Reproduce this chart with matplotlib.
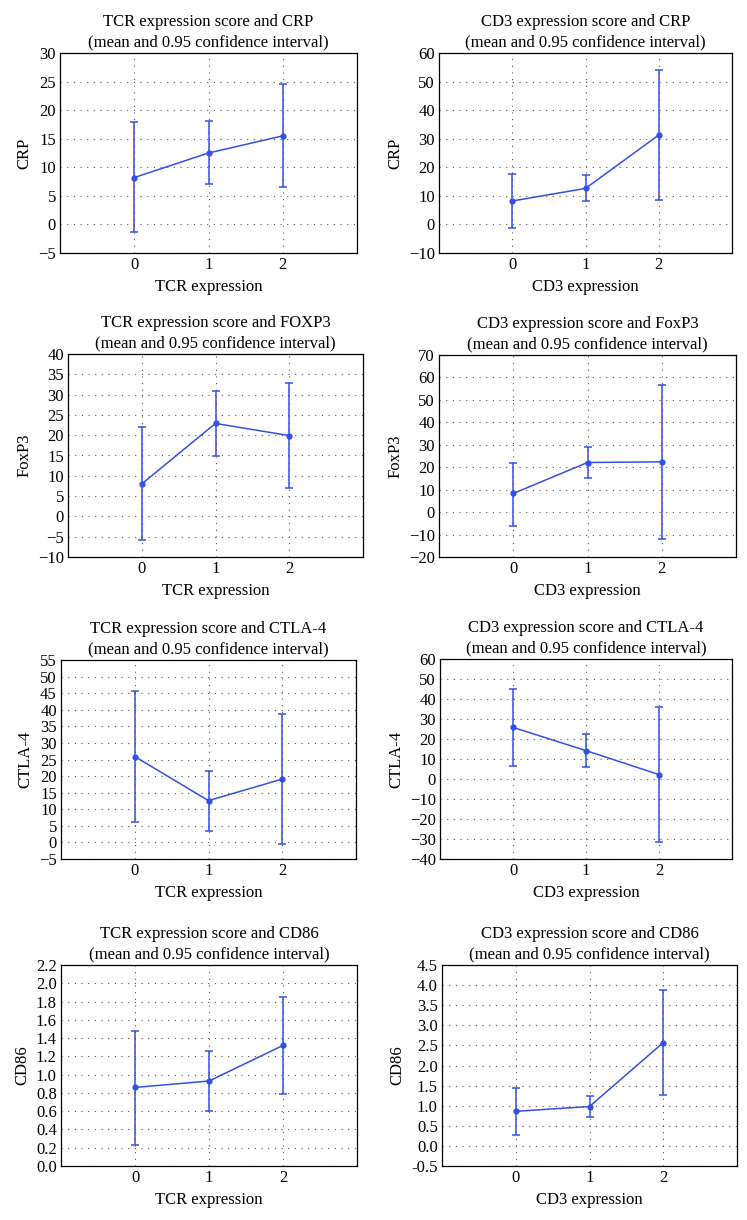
import matplotlib
matplotlib.use("Agg")
import matplotlib.pyplot as plt

plt.rcParams['font.family'] = ['Liberation Serif', 'DejaVu Serif']

x_levels = [0, 1, 2]

# Panel data: means, lower CI, upper CI
tcr_crp_mean = [8.2, 12.5, 15.5]
tcr_crp_low = [-1.4, 7.0, 6.6]
tcr_crp_high = [17.9, 18.1, 24.5]

cd3_crp_mean = [8.2, 12.6, 31.3]
cd3_crp_low = [-1.1, 8.1, 8.6]
cd3_crp_high = [17.5, 17.3, 54.0]

tcr_foxp3_mean = [8.0, 22.9, 19.9]
tcr_foxp3_low = [-5.9, 14.9, 7.0]
tcr_foxp3_high = [22.0, 31.0, 32.8]

cd3_foxp3_mean = [8.3, 22.1, 22.4]
cd3_foxp3_low = [-6.0, 15.0, -12.0]
cd3_foxp3_high = [22.0, 29.1, 56.6]

tcr_ctla4_mean = [25.9, 12.6, 19.1]
tcr_ctla4_low = [6.3, 3.5, -0.5]
tcr_ctla4_high = [45.6, 21.6, 38.7]

cd3_ctla4_mean = [25.8, 14.2, 2.2]
cd3_ctla4_low = [6.3, 5.8, -31.7]
cd3_ctla4_high = [45.2, 22.7, 35.8]

tcr_cd86_mean = [0.86, 0.93, 1.32]
tcr_cd86_low = [0.23, 0.60, 0.79]
tcr_cd86_high = [1.48, 1.26, 1.85]

cd3_cd86_mean = [0.86, 0.98, 2.57]
cd3_cd86_low = [0.28, 0.71, 1.26]
cd3_cd86_high = [1.44, 1.24, 3.87]

titles = [
    "TCR expression score and CRP\n(mean and 0.95 confidence interval)",
    "CD3 expression score and CRP\n(mean and 0.95 confidence interval)",
    "TCR expression score and FOXP3\n(mean and 0.95 confidence interval)",
    "CD3 expression score and FoxP3\n(mean and 0.95 confidence interval)",
    "TCR expression score and CTLA-4\n(mean and 0.95 confidence interval)",
    "CD3 expression score and CTLA-4\n(mean and 0.95 confidence interval)",
    "TCR expression score and CD86\n(mean and 0.95 confidence interval)",
    "CD3 expression score and CD86\n(mean and 0.95 confidence interval)",
]
ylabels = ["CRP", "CRP", "FoxP3", "FoxP3", "CTLA-4", "CTLA-4", "CD86", "CD86"]
xlabels = ["TCR expression", "CD3 expression"] * 4

series = [
    (tcr_crp_mean, tcr_crp_low, tcr_crp_high),
    (cd3_crp_mean, cd3_crp_low, cd3_crp_high),
    (tcr_foxp3_mean, tcr_foxp3_low, tcr_foxp3_high),
    (cd3_foxp3_mean, cd3_foxp3_low, cd3_foxp3_high),
    (tcr_ctla4_mean, tcr_ctla4_low, tcr_ctla4_high),
    (cd3_ctla4_mean, cd3_ctla4_low, cd3_ctla4_high),
    (tcr_cd86_mean, tcr_cd86_low, tcr_cd86_high),
    (cd3_cd86_mean, cd3_cd86_low, cd3_cd86_high),
]

ylims = [(-5, 30), (-10, 60), (-10, 40), (-20, 70), (-5, 55), (-40, 60), (0, 2.2), (-0.5, 4.5)]
ysteps = [5, 10, 5, 10, 5, 10, 0.2, 0.5]
yfmt = [None, None, None, None, None, None, "%.1f", "%.1f"]

# pixel boxes: left, right, top, bottom
boxes = [
    (60, 357, 53, 253), (439, 732, 53, 253),
    (68, 363, 354, 557), (439, 736, 355, 557),
    (61, 356, 660, 859), (440, 732, 659, 859),
    (61, 357, 965, 1166), (442, 737, 965, 1166),
]

W, H = 747, 1220
fig = plt.figure(figsize=(W / 100, H / 100), dpi=100)
color = "#3450e4"
fs = 12

for i in range(8):
    l, r, t, b = boxes[i]
    ax = fig.add_axes([l / W, 1 - b / H, (r - l) / W, (b - t) / H])
    m, lo, hi = series[i]
    yerr = [[mm - ll for mm, ll in zip(m, lo)], [hh - mm for mm, hh in zip(m, hi)]]
    ax.errorbar(x_levels, m, yerr=yerr, color=color, lw=1.1, marker='o', ms=3.5,
                capsize=3, capthick=1.1, elinewidth=1.1, zorder=3)
    ax.set_xlim(-1, 3)
    y0, y1 = ylims[i]
    ax.set_ylim(y0, y1)
    n = int(round((y1 - y0) / ysteps[i]))
    yt = [y0 + k * ysteps[i] for k in range(n + 1)]
    ax.set_yticks(yt)
    if yfmt[i]:
        ax.set_yticklabels([yfmt[i] % v for v in yt])
    else:
        ax.set_yticklabels(["\u2212%d" % -v if v < 0 else "%d" % v for v in yt])
    ax.set_xticks(x_levels)
    ax.grid(True, color="#555555", linestyle=(0, (1, 5)), linewidth=0.8)
    ax.tick_params(length=0, labelsize=fs, pad=3)
    for s in ax.spines.values():
        s.set_linewidth(0.9)
        s.set_color("black")
    ax.set_title(titles[i], fontsize=fs, pad=5, linespacing=1.3)
    ax.set_ylabel(ylabels[i], fontsize=fs, labelpad=4)
    ax.set_xlabel(xlabels[i], fontsize=fs, labelpad=4)

fig.savefig("out.png", dpi=100)
